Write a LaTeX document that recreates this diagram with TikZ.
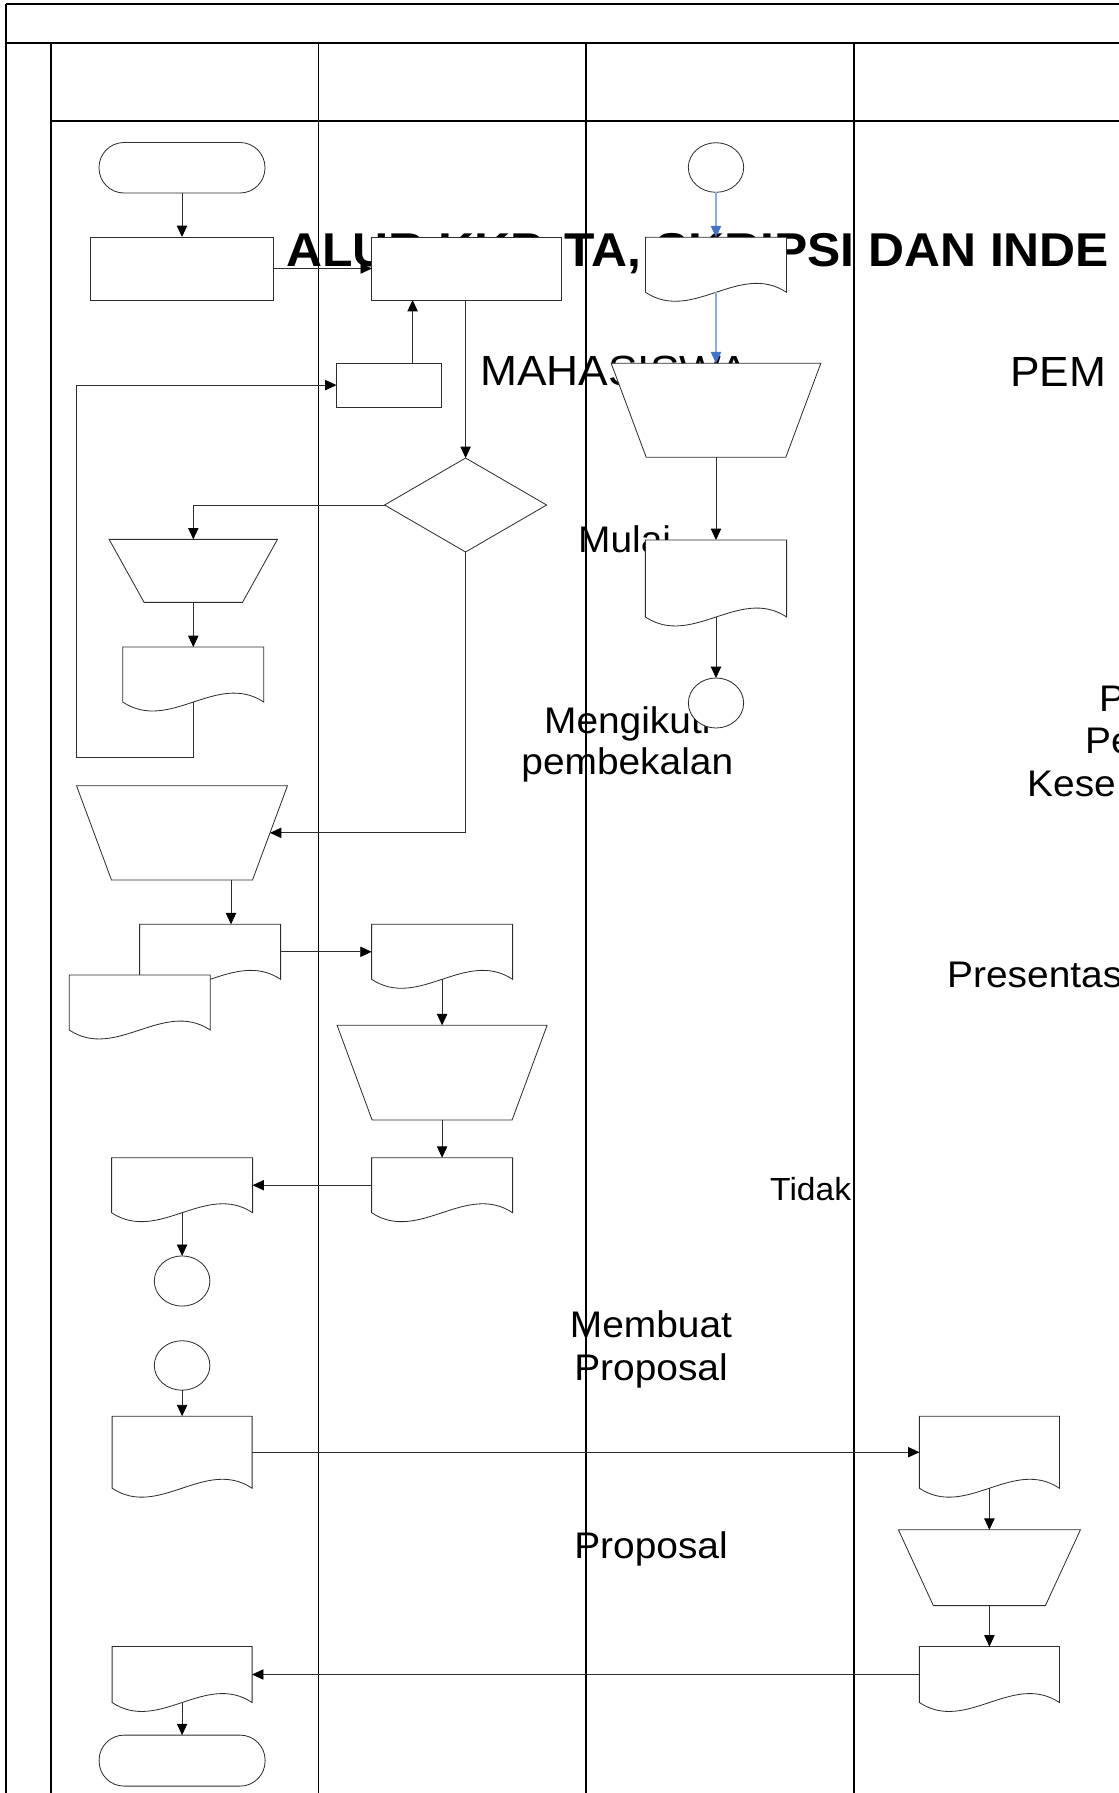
\documentclass[tikz,border=0pt]{standalone}
\usepackage{fontspec}
\setmainfont{Liberation Sans}[FakeStretch=1.05]
\usepackage{tikz}
\usetikzlibrary{shapes.geometric,arrows.meta,positioning,calc}

\definecolor{garis}{RGB}{45,45,45}
\definecolor{birumuda}{RGB}{143,170,220}
\definecolor{birutua}{RGB}{68,114,196}
\newdimen\pxl \pxl=0.3mm
\newcommand{\gbrdok}[1]{\draw[bentuk] (#1.north west) -- (#1.north east) -- (#1.south east) .. controls ($(#1.south east)!.333!(#1.south west)+(0,31)$) and ($(#1.south east)!.667!(#1.south west)+(0,-31)$) .. (#1.south west) -- cycle;}
\newcommand{\gbrmanual}[1]{\draw[bentuk] (#1.north west) -- (#1.north east) -- ($(#1.south east)+(-35,0)$) -- ($(#1.south west)+(35,0)$) -- cycle;}

\begin{document}
\begin{tikzpicture}[x=0.3mm, y=0.3mm,
	bentuk/.style={draw=garis, line width=0.7pt, fill=white},
	kotak/.style 2 args={inner sep=0pt, outer sep=0pt, minimum width=#1\pxl, minimum height=#2\pxl},
	proses/.style 2 args={kotak={#1}{#2}, rectangle, bentuk},
	terminal/.style 2 args={kotak={#1}{#2}, rectangle, rounded corners=25\pxl, bentuk},
	konektor/.style 2 args={kotak={#1}{#2}, ellipse, bentuk},
	keputusan/.style 2 args={kotak={#1}{#2}, diamond, bentuk},
	panah/.style={draw=garis, line width=0.7pt, -{Triangle[length=3.4mm, width=3.1mm, color=black]}},
	panahbiru/.style={draw=birumuda, line width=0.9pt, -{Triangle[length=3.4mm, width=3.1mm, color=birutua]}},
	bingkai/.style={draw=black, line width=1.2pt},
	judul/.style={inner sep=0pt, anchor=base west, font=\fontsize{40.5}{44}\selectfont\bfseries},
	kepala/.style={inner sep=0pt, anchor=base west, font=\fontsize{36}{40}\selectfont},
	teks/.style={inner sep=0pt, anchor=base, font=\fontsize{31.6}{36}\selectfont}]
	\useasboundingbox (0,0) rectangle (1119,-1793);
	\clip (0,0) rectangle (1119,-1793);

	\node[judul] (judul) at (286,-266.7) {ALUR KKP, TA, SKRIPSI DAN INDE};
	\node[kepala] (mhs) at (480,-385) {MAHASISWA};
	\node[kepala] (pem) at (1010,-386) {PEM};
	\node[teks, anchor=base west] (tmulai) at (578,-552.7) {Mulai};
	\node[teks] (ikut) at (627.3,-733.3) {Mengikuti};
	\node[teks] (bekal) at (627.3,-774.3) {pembekalan};
	\node[teks, anchor=base west] (p1) at (1099,-711.7) {P};
	\node[teks, anchor=base west] (p2) at (1085,-753.3) {Pe};
	\node[teks, anchor=base west] (p3) at (1027,-796.7) {Kese};
	\node[teks, anchor=base west] (pres) at (947,-987.3) {Presentas};
	\node[teks, anchor=base west, font=\fontsize{27.3}{31}\selectfont] (tidak) at (770,-1200) {Tidak};
	\node[teks] (buat) at (651,-1337.7) {Membuat};
	\node[teks] (prop) at (651,-1380) {Proposal};
	\node[teks] (prop2) at (651,-1558.3) {Proposal};

	\draw[bingkai] (6,-4) -- (1119,-4);
	\draw[bingkai, line width=0.9pt] (6,-4) -- (6,-1793);
	\draw[bingkai, line width=1.6pt] (6,-42.7) -- (1119,-42.7);
	\draw[bingkai, line width=1.5pt] (50.7,-42.7) -- (50.7,-1793);
	\draw[bingkai, line width=0.7pt] (318.8,-42.7) -- (318.8,-1793);
	\draw[bingkai] (586,-42.7) -- (586,-1793);
	\draw[bingkai] (854,-42.7) -- (854,-1793);
	\draw[bingkai] (50.7,-121) -- (1119,-121);

	\node[terminal={166}{50.5}] (mulai) at (182,-167.75) {};
	\node[proses={183}{63}, below=44 of mulai] (daftar) {};
	\node[proses={190}{63}, right=98.4 of daftar] (ajuan) {};
	\node[proses={105}{44}] (perbaikan) at (389,-385.1) {};
	\node[keputusan={162}{94}] (cek) at (465.6,-505) {};
	\node[kotak={168.4}{63}] (mtolak) at (193.3,-570.85) {};
	\gbrmanual{mtolak}
	\node[kotak={141}{55}, below=44.7 of mtolak] (dtolak) {};
	\gbrdok{dtolak}
	\coordinate (balik) at (76.5,-757.2);
	\node[kotak={211}{94.3}] (mjadwal) at (182,-832.85) {};
	\gbrmanual{mjadwal}
	\coordinate (turun) at ($(mjadwal.south)+(49,0)$);
	\node[kotak={141}{55}] (dberkas) at (210.1,-951.8) {};
	\gbrdok{dberkas}
	\node[kotak={141}{55}] (dsalin) at (139.7,-1002.5) {};
	\gbrdok{dsalin}
	\node[kotak={141}{55}, right=91 of dberkas] (dterima) {};
	\gbrdok{dterima}
	\node[kotak={210}{94.7}, below=46 of dterima] (mperiksa) {};
	\gbrmanual{mperiksa}
	\node[kotak={141}{55}, below=37.7 of mperiksa] (dhasil) {};
	\gbrdok{dhasil}
	\node[kotak={141}{55}, left=119 of dhasil] (dkembali) {};
	\gbrdok{dkembali}
	\node[konektor={55.6}{50.2}, below=43.2 of dkembali] (konA) {};
	\node[konektor={55.6}{49.5}, below=34.6 of konA] (konB) {};
	\node[kotak={140}{72}, below=26 of konB] (dprop) {};
	\gbrdok{dprop}
	\node[kotak={140}{72}, right=667.3 of dprop] (dpropB) {};
	\gbrdok{dpropB}
	\node[kotak={182}{75.8}, below=41.6 of dpropB] (mnilai) {};
	\gbrmanual{mnilai}
	\node[kotak={140}{56}, below=40.9 of mnilai] (dnilai) {};
	\gbrdok{dnilai}
	\node[kotak={140}{56}, left=667.3 of dnilai] (dkirim) {};
	\gbrdok{dkirim}
	\node[terminal={166}{51}, below=32.6 of dkirim] (selesai) {};

	\node[konektor={55.4}{49.6}] (konC) at (716,-167.5) {};
	\node[kotak={141}{55}, below=45 of konC] (dundangan) {};
	\gbrdok{dundangan}
	\node[kotak={209.6}{94}, below=71 of dundangan] (mbekal) {};
	\gbrmanual{mbekal}
	\node[kotak={141.3}{77}, below=82.7 of mbekal] (dbekal) {};
	\gbrdok{dbekal}
	\node[konektor={55.3}{50}, below=61 of dbekal] (konD) {};

	\draw[panah] (mulai.south) -- (daftar.north);
	\draw[panah] (daftar.east) -- (ajuan.west);
	\draw[panah] (perbaikan.43) -- (perbaikan.43 |- ajuan.south);
	\draw[panah] (ajuan.south -| cek.north) -- (cek.north);
	\draw[panah] (cek.west) -| (mtolak.north);
	\draw[panah] (mtolak.south) -- (dtolak.north);
	\draw[panah] (dtolak.south) |- (balik) |- (perbaikan.west);
	\draw[panah] (cek.south) |- ($(mjadwal.east)+(-17.5,0)$);
	\draw[panah] (turun) -- (turun |- dberkas.north);
	\draw[panah] (dberkas.east) -- (dterima.west);
	\draw[panah] (dterima.south) -- (mperiksa.north);
	\draw[panah] (mperiksa.south) -- (dhasil.north);
	\draw[panah] (dhasil.west) -- (dkembali.east);
	\draw[panah] (dkembali.south) -- (konA.north);
	\draw[panah] (konB.south) -- (dprop.north);
	\draw[panah] (dprop.east) -- (dpropB.west);
	\draw[panah] (dpropB.south) -- (mnilai.north);
	\draw[panah] (mnilai.south) -- (dnilai.north);
	\draw[panah] (dnilai.west) -- (dkirim.east);
	\draw[panah] (dkirim.south) -- (selesai.north);
	\draw[panahbiru] (konC.south) -- (dundangan.north);
	\draw[panahbiru] (dundangan.south) -- (mbekal.north);
	\draw[panah] (mbekal.south) -- (dbekal.north);
	\draw[panah] (dbekal.south) -- (konD.north);
\end{tikzpicture}
\end{document}
